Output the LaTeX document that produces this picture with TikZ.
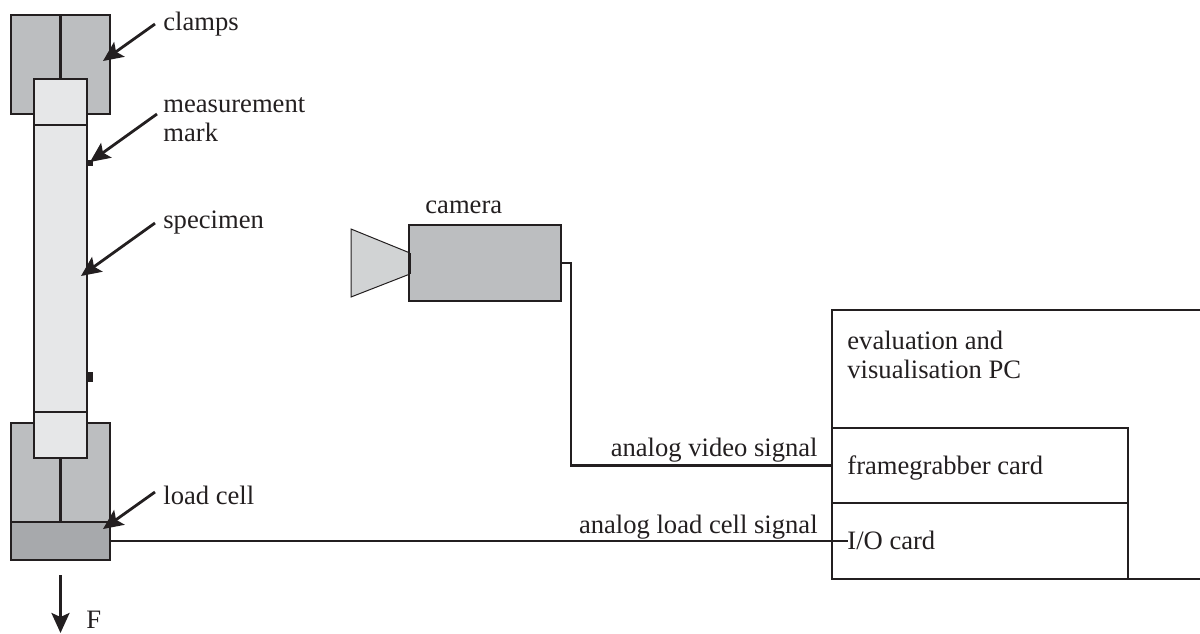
\documentclass[tikz,border=0pt]{standalone}
\usepackage{fontspec}
\setmainfont{Liberation Serif}
\usetikzlibrary{arrows.meta}

\definecolor{inkblack}{HTML}{231F20}
\definecolor{clampgray}{HTML}{BCBEC0}
\definecolor{specimengray}{HTML}{E6E7E8}
\definecolor{cellgray}{HTML}{A7A9AC}
\definecolor{lensgray}{HTML}{D1D3D4}

\tikzset{
  thickline/.style={draw=inkblack,line width=1.4pt},
  pointer/.style={draw=inkblack,line width=1.4pt,-{Stealth[length=10pt,width=9pt,inset=2pt]}},
  label/.style={text=inkblack,inner sep=0pt,anchor=base west,font=\fontsize{13.3}{14.5}\selectfont,align=left},
  cardbox/.style={thickline,inner sep=0pt,outer sep=0pt,minimum width=148pt,minimum height=37.5pt},
}

\begin{document}
\begin{tikzpicture}[x=0.5pt,y=-0.5pt]
\useasboundingbox (0,0) rectangle (1200,633);

% clamps
\filldraw[thickline,fill=clampgray] (11,15) rectangle (110,114);
\draw[thickline] (60.5,15) -- (60.5,79);
\filldraw[thickline,fill=clampgray] (11,423) rectangle (110,522);
\draw[thickline] (60.5,458) -- (60.5,522);
\node[thickline,fill=cellgray,inner sep=0pt,outer sep=0pt,minimum width=49.5pt,minimum height=19pt] (loadcell) at (60.5,541) {};

% specimen
\filldraw[thickline,fill=specimengray] (34,79) rectangle (87,458);
\draw[thickline] (34,125) -- (87,125);
\draw[thickline,line width=0.9pt] (34,412) -- (87,412);
\fill[inkblack] (87,160) rectangle (93,166);
\fill[inkblack] (87,372) rectangle (93,382);

% camera
\filldraw[draw=inkblack,line width=0.5pt,fill=lensgray] (351,229) -- (410,253) -- (410,274) -- (351,297) -- cycle;
\node[draw=inkblack,line width=0.7pt,fill=clampgray,inner sep=0pt,outer sep=0pt,minimum width=76pt,minimum height=38pt] (camera) at (485,263) {};
\draw[thickline] (409.5,253) -- (409.5,274);
\node[label] (cameralabel) at (425,213) {camera};

% PC and cards
\coordinate (pctopright) at (1200,310);
\coordinate (pcbottomright) at (1200,579);
\node[cardbox] (framegrabber) at (980,465.5) {};
\node[cardbox,minimum height=38pt] (iocard) at (980,541) {};
\draw[thickline] (framegrabber.north west) |- (pctopright);
\draw[thickline] (iocard.south east) -- (pcbottomright);

\node[label] (pclabel) at (847,378) {evaluation and\\visualisation PC};
\node[label] (framelabel) at (847,474) {framegrabber card};
\node[label] (iolabel) at (847,549) {I/O card};

% signals
\coordinate (videoin) at (framegrabber.west);
\coordinate (loadin) at (848,541);
\draw[thickline] (camera.east) -- (571,263) |- (videoin);
\draw[thickline] (loadcell.east) -- (loadin);
\node[label,anchor=base east] (videolabel) at (818,456) {analog video signal};
\node[label,anchor=base east] (loadlabel) at (818,533) {analog load cell signal};

% labels and arrows
\node[label] (clampslabel) at (163,30) {clamps};
\node[label] (marklabel) at (163,141) {measurement\\mark};
\node[label] (specimenlabel) at (163,228) {specimen};
\node[label] (celllabel) at (163,504) {load cell};
\node[label] (forcelabel) at (86,628) {F};

\coordinate (clampsfrom) at (155,24);
\coordinate (clampsto) at (103,61);
\coordinate (markfrom) at (157,114);
\coordinate (markto) at (90,162);
\coordinate (specimenfrom) at (155,223);
\coordinate (specimento) at (81,276);
\coordinate (cellfrom) at (155,492);
\coordinate (cellto) at (103,529);
\coordinate (forcefrom) at (60.5,575);
\coordinate (forceto) at (60.5,633);
\draw[pointer] (clampsfrom) -- (clampsto);
\draw[pointer] (markfrom) -- (markto);
\draw[pointer] (specimenfrom) -- (specimento);
\draw[pointer] (cellfrom) -- (cellto);
\draw[pointer] (forcefrom) -- (forceto);
\end{tikzpicture}
\end{document}
